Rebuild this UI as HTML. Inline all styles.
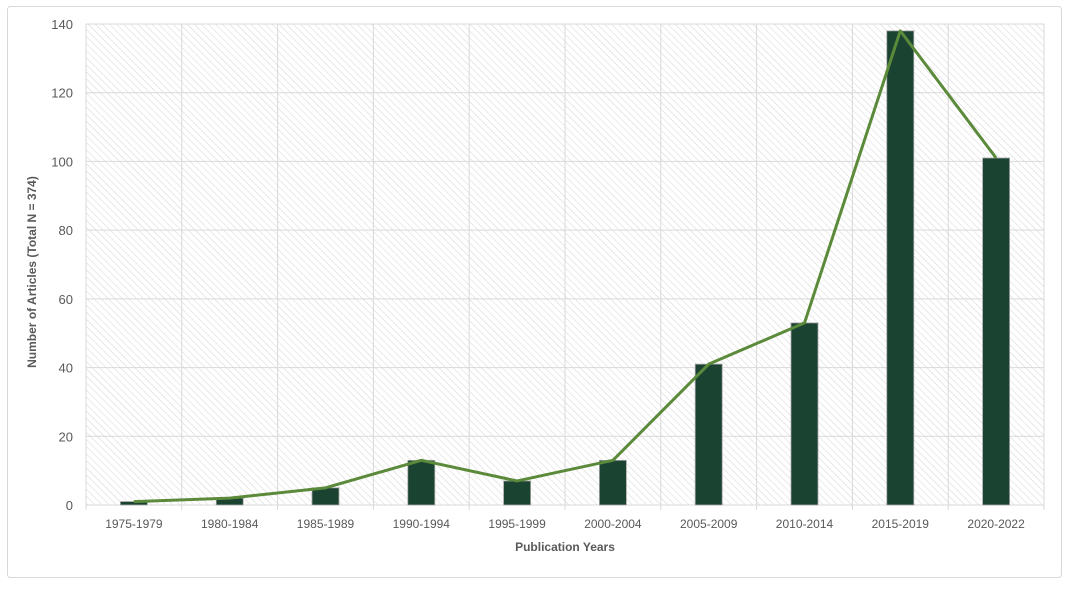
<!DOCTYPE html>
<html><head><meta charset="utf-8"><style>
body{margin:0;background:#fff;font-family:"Liberation Sans",sans-serif}
svg text{font-family:"Liberation Sans",sans-serif}
</style></head><body>
<svg width="1068" height="584">
<defs><pattern id="hatch" width="5" height="5" patternUnits="userSpaceOnUse" patternTransform="rotate(-45)">
<line x1="0" y1="0" x2="0" y2="5" stroke="#d4d4d4" stroke-width="1"/></pattern></defs>
<rect x="7.5" y="6.5" width="1054" height="571" rx="3" fill="#fff" stroke="#d9d9d9"/>
<rect x="86" y="24" width="958" height="481" fill="url(#hatch)"/>
<g id="grid"></g><g id="bars"></g><g id="line"></g><g id="labels"></g>
<text x="28" y="264" transform="rotate(-90 36 264)" text-anchor="middle" font-size="12" font-weight="bold" fill="#595959">Number of Articles (Total N = 374)</text>
<text x="565" y="551" text-anchor="middle" font-size="12" font-weight="bold" fill="#595959">Publication Years</text>
</svg>
<script>
const categories=["1975-1979","1980-1984","1985-1989","1990-1994","1995-1999","2000-2004","2005-2009","2010-2014","2015-2019","2020-2022"];
const values=[1,2,5,13,7,13,41,53,138,101];
const yTicks=[0,20,40,60,80,100,120,140];
const L=86,R=1044,T=24,B=505,yMax=140;
const NS="http://www.w3.org/2000/svg";
const cw=(R-L)/categories.length;
const y=v=>B-(v/yMax)*(B-T);
const xc=i=>L+cw*(i+0.5);
function mk(t,a,p){const e=document.createElementNS(NS,t);for(const k in a)e.setAttribute(k,a[k]);document.getElementById(p).appendChild(e);return e;}
yTicks.forEach(t=>{
 const g=mk('line',{x1:L,x2:R,y1:y(t),y2:y(t),stroke:'#d9d9d9','stroke-width':1},'grid');
 
 
 const l=mk('text',{x:L-13,y:y(t)+5,'text-anchor':'end','font-size':13,fill:'#595959'},'labels');
 l.textContent=t;
 
 
});
for(let i=0;i<=categories.length;i++){
 const g=mk('line',{x1:L+cw*i,x2:L+cw*i,y1:T,y2:B+5,stroke:'#d9d9d9','stroke-width':1},'grid');
 
 
}
categories.forEach((c,i)=>{
 const b=mk('rect',{x:xc(i)-13.5,y:y(values[i]),width:27,height:B-y(values[i]),fill:'#1b4332',stroke:'#a6a6a6','stroke-width':0.8},'bars');
 
 
 const l=mk('text',{x:xc(i),y:B+23,'text-anchor':'middle','font-size':12,fill:'#595959'},'labels');
 l.textContent=c;
 
 
});
const pl=mk('polyline',{points:values.map((v,i)=>xc(i)+','+y(v)).join(' '),fill:'none',stroke:'#5b8a3a','stroke-width':3,'stroke-linejoin':'round'},'line');


</script>
</body></html>
